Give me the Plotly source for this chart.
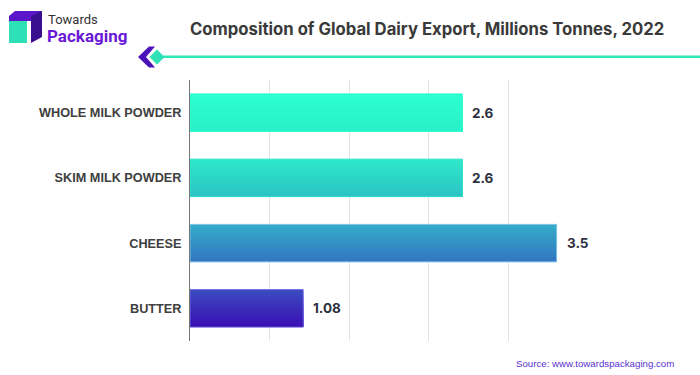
import plotly.graph_objects as go

categories = ["WHOLE MILK POWDER", "SKIM MILK POWDER", "CHEESE", "BUTTER"]
values = [2.6, 2.6, 3.5, 1.08]
value_labels = ["2.6", "2.6", "3.5", "1.08"]
top_colors = ["#2CFFD0", "#2EE8C9", "#33ABC8", "#3B4BBF"]
bottom_colors = ["#2AF0C9", "#2CC4C6", "#3477C1", "#3A10B4"]
edge_colors = ["#2CFFD0", "#2EE0C9", "#7CC3E6", "#6A5CE0"]

BAR_W = 0.574
N = 16

L, R, T, B = 190, 112, 80, 34
PW, PH = 700 - L - R, 375 - T - B


def hex2rgb(h):
    h = h.lstrip("#")
    return tuple(int(h[i:i + 2], 16) for i in (0, 2, 4))


def mix(a, b, t):
    ra, rb = hex2rgb(a), hex2rgb(b)
    return "rgb(%d,%d,%d)" % tuple(round(ra[k] + (rb[k] - ra[k]) * t) for k in range(3))


fig = go.Figure()
step = BAR_W / N
for i in range(N):
    t = i / (N - 1)
    fig.add_trace(go.Bar(
        y=categories, x=values, orientation="h",
        width=BAR_W - i * step, offset=-BAR_W / 2 + i * step,
        marker=dict(color=[mix(a, b, t) for a, b in zip(top_colors, bottom_colors)], line=dict(width=0)),
        hoverinfo="skip", showlegend=False,
    ))
# outline
fig.add_trace(go.Bar(
    y=categories, x=values, orientation="h", width=BAR_W,
    marker=dict(color="rgba(0,0,0,0)", line=dict(color=edge_colors, width=1)),
    showlegend=False,
))

for c, v, lab in zip(categories, values, value_labels):
    fig.add_annotation(x=v, y=c, text="<b>%s</b>" % lab, showarrow=False,
                       xanchor="left", xshift=8,
                       font=dict(family="Inter", size=13.5, color="#2D3142"))

fig.update_layout(
    width=700, height=375, barmode="overlay",
    margin=dict(l=L, r=R, t=T, b=B, autoexpand=False),
    paper_bgcolor="white", plot_bgcolor="white",
    xaxis=dict(range=[0, 3.8], dtick=0.76, tick0=0, showticklabels=False,
               showgrid=True, gridcolor="#E3E3E3", gridwidth=1, zeroline=False,
               showline=False, fixedrange=True, automargin=False),
    yaxis=dict(autorange="reversed", showline=True, linecolor="#777777", linewidth=1,
               ticks="", ticklabelstandoff=5, automargin=False,
               tickfont=dict(family="Arial", size=12.7, color="#404040")),
    font=dict(family="Arial"),
)
fig.update_yaxes(tickvals=categories, ticktext=["<b>%s</b>" % c for c in categories])


def px(xp):
    return (xp - L) / PW


def py(yp):
    return (375 - yp - B) / PH


# title
fig.add_annotation(xref="paper", yref="paper", x=px(426.5), y=py(29), yanchor="middle", xanchor="center",
                   text="<b>Composition of Global Dairy Export, Millions Tonnes, 2022</b>",
                   showarrow=False, font=dict(family="Inter", size=16.7, color="#3A3A3A"))

# source
fig.add_annotation(xref="paper", yref="paper", x=px(676), y=py(363),
                   text="Source: www.towardspackaging.com", showarrow=False, xanchor="right", yanchor="middle",
                   font=dict(family="Arial", size=9.7, color="#5A2FD0"))

# logo texts
fig.add_annotation(xref="paper", yref="paper", x=px(46), y=py(19), text="Towards", showarrow=False,
                   xanchor="left", yanchor="middle", font=dict(family="Roboto", size=13, color="#333333"))
fig.add_annotation(xref="paper", yref="paper", x=px(45), y=py(36), text="<b>Packaging</b>", showarrow=False,
                   xanchor="left", yanchor="middle", font=dict(family="Roboto", size=17, color="#6B18D6"))


def path(points):
    return "M " + " L ".join("%f,%f" % (px(a), py(b)) for a, b in points) + " Z"


shapes = [
    dict(type="path", path=path([(9, 16), (15, 11), (42, 11), (36, 16)]), fillcolor="#5B16C9", line=dict(width=0)),
    dict(type="path", path=path([(31, 16), (42, 11), (42, 37), (31, 43)]), fillcolor="#3A0F8F", line=dict(width=0)),
    dict(type="path", path=path([(9, 16), (31, 16), (31, 21), (9, 21)]), fillcolor="#5B16C9", line=dict(width=0)),
    dict(type="path", path=path([(9, 21), (27, 21), (27, 43), (9, 43)]), fillcolor="#2EE0B5", line=dict(width=0)),
    dict(type="line", x0=px(163), x1=px(700), y0=py(56.7), y1=py(56.7), line=dict(color="#2EE8B5", width=2.5)),
    dict(type="path", path=path([(149, 46.5), (155, 46.5), (146, 57), (155, 67.5), (149, 67.5), (138, 57)]),
         fillcolor="#4A12B8", line=dict(width=0)),
    dict(type="path", path=path([(157, 49.5), (164.5, 57), (157, 64.5), (149.5, 57)]),
         fillcolor="#2EE0B5", line=dict(width=0)),
]
for s in shapes:
    s.update(xref="paper", yref="paper")
fig.update_layout(shapes=shapes)

fig.write_html("out.html", config={"displayModeBar": False},
               post_script="document.body.style.margin='0';document.body.style.overflow='hidden';")
